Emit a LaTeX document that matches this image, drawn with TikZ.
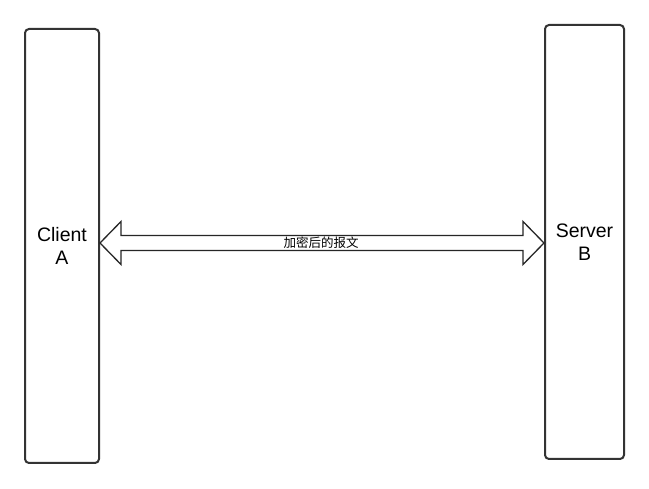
\documentclass[tikz,border=0pt]{standalone}
\usepackage{fontspec}
\usetikzlibrary{calc}
\setmainfont{Liberation Sans}
\newfontfamily\cjk{Noto Sans CJK SC}
\begin{document}
\begin{tikzpicture}[x=1pt,y=-1pt,
  lane/.style={draw=black!80, line width=2pt, rounded corners=4pt, inner sep=0pt, align=center,
    font=\fontsize{19.5}{23}\selectfont},
  link/.style={draw=black!85, line width=1.3pt, line join=miter}]
\useasboundingbox[fill=white] (0,0) rectangle (649,489);
\node[lane, minimum width=74pt, minimum height=434pt] (a) at (62,246) {Client\\A};
\node[lane, minimum width=79pt, minimum height=434pt] (b) at (584.5,242) {Server\\B};
\coordinate (L) at (a.east |- 0,243);
\coordinate (R) at (b.west |- 0,243);
\draw[link] (L) -- ++(21,-21.5) -- ++(0,14) -- ($(R)+(-21,-7.5)$) -- ++(0,-14) -- (R)
  -- ++(-21,21.5) -- ++(0,-14) -- ($(L)+(21,7.5)$) -- ++(0,14) -- cycle;
\node[font=\cjk\fontsize{12.5}{14}\selectfont, inner sep=0pt] (t) at (321,243) {加密后的报文};
\end{tikzpicture}
\end{document}
